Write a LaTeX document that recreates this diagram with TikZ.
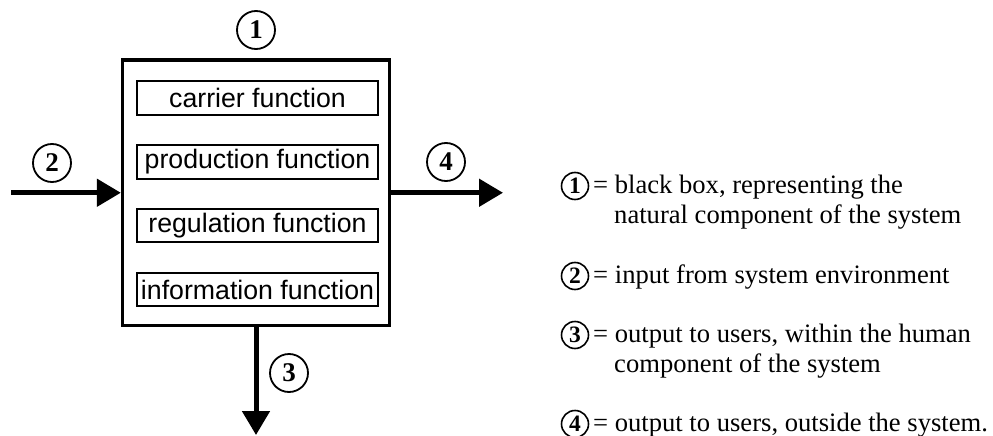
\documentclass[tikz,border=0pt]{standalone}
\usepackage{fontspec}
\setmainfont{Liberation Serif}
\newfontfamily\arialfont{Liberation Sans}
\usetikzlibrary{arrows.meta}

\begin{document}
\begin{tikzpicture}[x=1pt,y=-1pt,
  blackbox/.style={draw, line width=3.3pt, minimum width=267pt, minimum height=265.5pt, inner sep=0pt},
  funcbox/.style={draw, line width=2pt, minimum width=241pt, minimum height=33.5pt, inner sep=0pt,
    font=\arialfont\fontsize{26.7}{30}\selectfont},
  bignum/.style={draw, circle, line width=1.8pt, minimum size=38pt, inner sep=0pt,
    font=\bfseries\fontsize{27}{27}\selectfont},
  smallnum/.style={draw, circle, line width=1.6pt, minimum size=27pt, inner sep=0pt,
    font=\bfseries\fontsize{23.5}{23.5}\selectfont},
  legend/.style={anchor=base west, inner sep=0pt, font=\fontsize{26.6}{30}\selectfont},
  flow/.style={line width=5pt, -{Triangle[length=24pt,width=27pt]}}
]
\useasboundingbox (0,0) rectangle (993,436);

% the black box and its four functions
\node[blackbox] (bb) at (256,192.75) {};
\node[funcbox] (carrier) at (257.5,98) {carrier function};
\node[funcbox] (production) at (257.5,161.75) {production function};
\node[funcbox] (regulation) at (257.5,225.5) {regulation function};
\node[funcbox] (information) at (257.5,289.5) {information function};

% flows into and out of the box
\coordinate (env) at (11,192.75);
\coordinate (outside) at (503,192.75);
\coordinate (users) at (256,435);
\draw[flow] (env) -- (bb.west);
\draw[flow] (bb.east) -- (outside);
\draw[flow] (bb.south) -- (users);

% numbered markers
\node[bignum] (n1) at (256,30) {1};
\node[bignum] (n2) at (52,163) {2};
\node[bignum] (n3) at (289,373) {3};
\node[bignum] (n4) at (446,162) {4};

% legend
\node[smallnum] (k1) at (575,186) {1};
\node[legend] (t1a) at (593,193) {= black box, representing the};
\node[legend] (t1b) at (614,223) {natural component of the system};

\node[smallnum] (k2) at (575,276) {2};
\node[legend] (t2) at (593,283) {= input from system environment};

\node[smallnum] (k3) at (575,335) {3};
\node[legend] (t3a) at (593,342) {= output to users, within the human};
\node[legend] (t3b) at (614,372) {component of the system};

\node[smallnum] (k4) at (575,424) {4};
\node[legend] (t4) at (593,431) {= output to users, outside the system.};
\end{tikzpicture}
\end{document}
